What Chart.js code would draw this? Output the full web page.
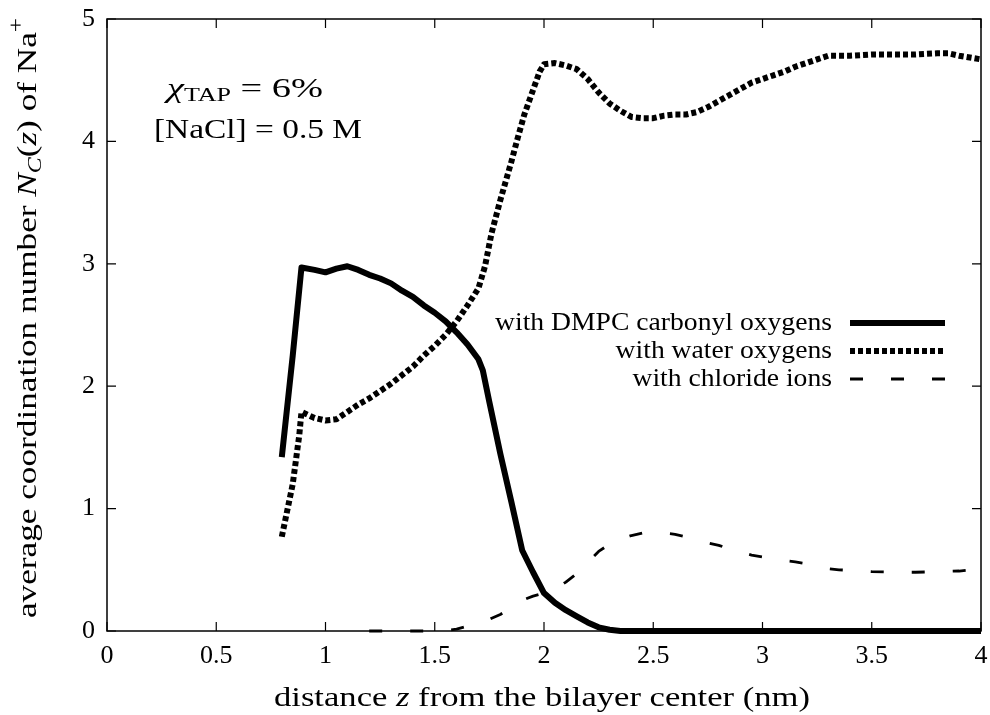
<!DOCTYPE html>
<html lang="en">
<head>
<meta charset="UTF-8">
<title>Average coordination number of Na+</title>
<script src="https://cdn.jsdelivr.net/npm/chart.js"></script>
<style>
  html, body { margin: 0; padding: 0; background: #fff; }
</style>
</head>
<body>
<canvas id="coordChart" width="990" height="715"></canvas>
<script>
// distance z (nm) and N_C(z) for each coordination partner
const zDmpc = [0.80, 0.85, 0.89, 0.95, 1.00, 1.05, 1.10, 1.15, 1.20, 1.25, 1.30, 1.35, 1.40, 1.45, 1.50, 1.55, 1.60, 1.65, 1.70, 1.72, 1.75, 1.80, 1.85, 1.90, 1.95, 2.00, 2.05, 2.10, 2.15, 2.20, 2.25, 2.30, 2.35, 2.50, 3.00, 3.50, 4.00];
const nDmpc = [1.42, 2.25, 2.97, 2.95, 2.93, 2.96, 2.98, 2.95, 2.91, 2.88, 2.84, 2.78, 2.73, 2.66, 2.60, 2.53, 2.44, 2.34, 2.22, 2.13, 1.87, 1.45, 1.06, 0.66, 0.48, 0.31, 0.23, 0.17, 0.12, 0.07, 0.03, 0.01, 0.00, 0.00, 0.00, 0.00, 0.00];

const zWater = [0.80, 0.85, 0.88, 0.89, 0.95, 1.00, 1.05, 1.10, 1.15, 1.20, 1.25, 1.30, 1.35, 1.40, 1.45, 1.50, 1.55, 1.60, 1.65, 1.70, 1.73, 1.76, 1.80, 1.85, 1.88, 1.91, 1.95, 1.98, 2.00, 2.05, 2.10, 2.15, 2.20, 2.25, 2.30, 2.35, 2.40, 2.45, 2.50, 2.55, 2.60, 2.65, 2.70, 2.75, 2.80, 2.85, 2.90, 2.95, 3.00, 3.05, 3.10, 3.15, 3.20, 3.25, 3.30, 3.40, 3.50, 3.60, 3.70, 3.80, 3.85, 3.90, 4.00];
const nWater = [0.77, 1.20, 1.60, 1.79, 1.74, 1.72, 1.73, 1.79, 1.85, 1.90, 1.96, 2.02, 2.09, 2.16, 2.25, 2.33, 2.42, 2.53, 2.66, 2.80, 2.98, 3.25, 3.52, 3.83, 4.03, 4.22, 4.42, 4.57, 4.63, 4.64, 4.62, 4.59, 4.51, 4.40, 4.31, 4.25, 4.20, 4.19, 4.19, 4.21, 4.22, 4.22, 4.24, 4.28, 4.33, 4.38, 4.43, 4.48, 4.51, 4.54, 4.57, 4.61, 4.64, 4.67, 4.70, 4.70, 4.71, 4.71, 4.71, 4.72, 4.72, 4.70, 4.67];

const zChloride = [1.20, 1.25, 1.30, 1.35, 1.40, 1.45, 1.50, 1.55, 1.60, 1.65, 1.70, 1.75, 1.80, 1.85, 1.90, 1.95, 2.00, 2.05, 2.10, 2.15, 2.20, 2.25, 2.30, 2.35, 2.40, 2.45, 2.50, 2.55, 2.60, 2.65, 2.70, 2.75, 2.80, 2.85, 2.90, 2.95, 3.00, 3.05, 3.10, 3.15, 3.20, 3.25, 3.30, 3.35, 3.40, 3.50, 3.60, 3.70, 3.80, 3.90, 3.95, 4.00];
const nChloride = [0.00, 0.00, 0.00, 0.00, 0.00, 0.00, 0.00, 0.005, 0.015, 0.04, 0.065, 0.095, 0.135, 0.19, 0.25, 0.285, 0.31, 0.34, 0.40, 0.47, 0.56, 0.65, 0.71, 0.75, 0.78, 0.80, 0.81, 0.80, 0.79, 0.77, 0.745, 0.72, 0.70, 0.67, 0.645, 0.62, 0.605, 0.59, 0.575, 0.565, 0.55, 0.53, 0.51, 0.50, 0.495, 0.485, 0.48, 0.48, 0.485, 0.49, 0.50, 0.52];

const seriesLabels = ['with DMPC carbonyl oxygens', 'with water oxygens', 'with chloride ions'];
const xTickStep = 0.5;
const yTickStep = 1;

const serif = '"Liberation Serif", "DejaVu Serif", serif';

function toPoints(xs, ys) {
    return xs.map((x, i) => ({ x: x, y: ys[i] }));
}

function fontOf(p) {
    return (p.italic ? 'italic ' : '') + p.size + 'px ' + serif;
}

// draws a run of text pieces (italic, sub/superscript) one after another,
// optionally stretched sideways to a given width
function drawRich(ctx, parts, x, y, align, width) {
    let total = 0;
    parts.forEach(p => {
        ctx.font = fontOf(p);
        p.w = ctx.measureText(p.t).width;
        total += p.w;
    });
    const sx = width ? width / total : 1;
    ctx.save();
    ctx.translate(x, y);
    ctx.scale(sx, 1);
    let cx = align === 'center' ? -total / 2 : 0;
    parts.forEach(p => {
        ctx.font = fontOf(p);
        ctx.fillText(p.t, cx, p.dy || 0);
        cx += p.w;
    });
    ctx.restore();
}

const framePlugin = {
    id: 'frame',
    afterDraw(chart) {
        const ctx = chart.ctx;
        const a = chart.chartArea;
        const xs = chart.scales.x;
        const ys = chart.scales.y;
        ctx.save();
        ctx.strokeStyle = '#000';
        ctx.fillStyle = '#000';

        // border box
        ctx.lineWidth = 1.5;
        ctx.strokeRect(a.left, a.top, a.right - a.left, a.bottom - a.top);

        // inward ticks, mirrored on top and right
        ctx.lineWidth = 1.2;
        ctx.beginPath();
        xs.ticks.forEach(t => {
            const px = xs.getPixelForValue(t.value);
            ctx.moveTo(px, a.bottom); ctx.lineTo(px, a.bottom - 9);
            ctx.moveTo(px, a.top); ctx.lineTo(px, a.top + 9);
        });
        ys.ticks.forEach(t => {
            const py = ys.getPixelForValue(t.value);
            ctx.moveTo(a.left, py); ctx.lineTo(a.left + 9, py);
            ctx.moveTo(a.right, py); ctx.lineTo(a.right - 9, py);
        });
        ctx.stroke();

        // key: text right-aligned, sample line to its right
        ctx.textBaseline = 'middle';
        ctx.font = '25px ' + serif;
        const keyStretch = 337 / ctx.measureText(seriesLabels[0]).width;
        chart.data.datasets.forEach((ds, i) => {
            const y = 323 + i * 28;
            ctx.font = '25px ' + serif;
            const w = ctx.measureText(ds.label).width * keyStretch;
            drawRich(ctx, [{ t: ds.label, size: 25 }], 832 - w, y, 'left', w);
            ctx.beginPath();
            ctx.lineWidth = ds.borderWidth;
            ctx.setLineDash(ds.borderDash || []);
            ctx.moveTo(850, y);
            ctx.lineTo(945, y);
            ctx.stroke();
        });
        ctx.setLineDash([]);

        // axis titles
        ctx.textBaseline = 'alphabetic';
        drawRich(ctx, [
            { t: 'distance ', size: 28 },
            { t: 'z', size: 28, italic: true },
            { t: ' from the bilayer center (nm)', size: 28 }
        ], 542, 706, 'center', 536);

        ctx.save();
        ctx.translate(36, 318);
        ctx.rotate(-Math.PI / 2);
        drawRich(ctx, [
            { t: 'average coordination number ', size: 28 },
            { t: 'N', size: 28, italic: true },
            { t: 'C', size: 19, italic: true, dy: 5 },
            { t: '(', size: 28 },
            { t: 'z', size: 28, italic: true },
            { t: ') of Na', size: 28 },
            { t: '+', size: 20, dy: -13 }
        ], 0, 0, 'center', 600);
        ctx.restore();

        // simulation conditions
        drawRich(ctx, [
            { t: 'χ', size: 28, italic: true },
            { t: 'TAP', size: 19, dy: 4 },
            { t: ' = 6%', size: 28 }
        ], 167, 97, 'left', 156);
        drawRich(ctx, [
            { t: '[NaCl] = 0.5 M', size: 28 }
        ], 154, 138, 'left', 208);

        ctx.restore();
    }
};

new Chart(document.getElementById('coordChart'), {
    type: 'line',
    data: {
        datasets: [{
            label: seriesLabels[0],
            data: toPoints(zDmpc, nDmpc),
            borderColor: '#000',
            borderWidth: 6,
            clip: 8
        }, {
            label: seriesLabels[1],
            data: toPoints(zWater, nWater),
            borderColor: '#000',
            borderWidth: 6,
            borderDash: [5, 3],
            clip: 8
        }, {
            label: seriesLabels[2],
            data: toPoints(zChloride, nChloride),
            borderColor: '#000',
            borderWidth: 2.8,
            borderDash: [13, 28],
            clip: 8
        }]
    },
    options: {
        responsive: false,
        animation: false,
        events: [],
        elements: {
            point: { radius: 0 },
            line: { tension: 0, borderCapStyle: 'butt', borderJoinStyle: 'round' }
        },
        layout: { padding: { top: 19, right: 9, left: 0, bottom: 0 } },
        plugins: {
            legend: { display: false },
            tooltip: { enabled: false }
        },
        scales: {
            x: {
                type: 'linear',
                min: 0,
                max: 4,
                ticks: {
                    stepSize: xTickStep,
                    color: '#000',
                    padding: 10,
                    font: { family: serif, size: 26 },
                    callback: v => String(v)
                },
                grid: { display: false, drawTicks: false },
                border: { display: false },
                afterFit(scale) {
                    scale.height = 84;
                    scale.paddingLeft = 0;
                    scale.paddingRight = 0;
                }
            },
            y: {
                min: 0,
                max: 5,
                ticks: {
                    stepSize: yTickStep,
                    color: '#000',
                    padding: 12,
                    font: { family: serif, size: 26 }
                },
                grid: { display: false, drawTicks: false },
                border: { display: false },
                afterFit(scale) {
                    scale.width = 107;
                    scale.paddingTop = 0;
                    scale.paddingBottom = 0;
                }
            }
        }
    },
    plugins: [framePlugin]
});
</script>
</body>
</html>
